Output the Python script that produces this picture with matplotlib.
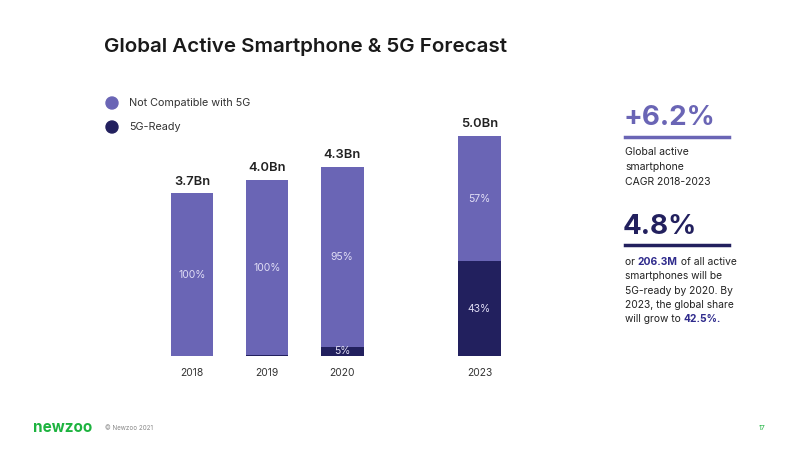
import matplotlib
matplotlib.use("Agg")
import matplotlib.pyplot as plt
from matplotlib.patches import Circle
from matplotlib.lines import Line2D

years = ["2018", "2019", "2020", "2023"]
positions = [0, 1, 2, 3.83]
totals = [3.7, 4.0, 4.3, 5.0]
total_labels = ["3.7Bn", "4.0Bn", "4.3Bn", "5.0Bn"]
ready_share = [0.0, 0.005, 0.05, 0.43]
not_share_labels = ["100%", "100%", "95%", "57%"]
ready_share_labels = ["", "", "5%", "43%"]

LIGHT = "#6A65B5"
DARK = "#22205E"
FONT = ["Inter", "DejaVu Sans"]
plt.rcParams['font.family'] = FONT

W, H = 800, 450
fig = plt.figure(figsize=(8, 4.5), dpi=100)

def fx(px):
    return px / W

def fy(py):
    return 1 - py / H

ax = fig.add_axes([fx(150), fy(356), fx(370), (356 - 110) / H])
ready = [t * s for t, s in zip(totals, ready_share)]
notc = [t - r for t, r in zip(totals, ready)]
ax.bar(positions, ready, width=0.57, color=DARK, linewidth=0)
ax.bar(positions, notc, bottom=ready, width=0.57, color=LIGHT, linewidth=0)
ax.set_xlim(-0.56, 4.37)
ax.set_ylim(0, 5.59)
ax.axis("off")

for x, yr, t, tl, r, n, nl, rl in zip(positions, years, totals, total_labels, ready, notc,
                                      not_share_labels, ready_share_labels):
    ax.annotate(tl, (x, t), xytext=(0, 4), textcoords="offset points", ha="center", va="bottom",
                fontsize=9.3, fontweight="semibold", color="#222222")
    ax.text(x, r + n / 2, nl, ha="center", va="center", fontsize=7.5, color="#E0DDF5")
    if rl:
        ax.text(x, r / 2, rl, ha="center", va="center", fontsize=7.5, color="#E0DDF5")
    ax.annotate(yr, (x, 0), xytext=(0, -9), textcoords="offset points",
                ha="center", va="top", fontsize=7.4, color="#333333")

# Title
fig.text(fx(104), fy(47), "Global Active Smartphone & 5G Forecast", fontsize=14.8, fontweight="semibold",
         color="#1a1a1a", va="center", ha="left")

# Legend
for py, lab, col in [(103, "Not Compatible with 5G", LIGHT), (127, "5G-Ready", DARK)]:
    fig.patches.append(Circle((112, H - py), 6, transform=None, color=col))
    fig.text(fx(129), fy(py), lab, fontsize=7.8, color="#333333", va="center", ha="left")

# Right panel
fig.text(fx(623), fy(118), "+6.2%", fontsize=20, fontweight="bold", color=LIGHT, va="center", ha="left")
fig.add_artist(Line2D([fx(625), fx(729)], [fy(137), fy(137)], color=LIGHT, lw=2.5))
for i, line in enumerate(["Global active", "smartphone", "CAGR 2018-2023"]):
    fig.text(fx(625), fy(152 + 15 * i), line, fontsize=7.5, color="#222222", va="center", ha="left")

fig.text(fx(623), fy(227), "4.8%", fontsize=20, fontweight="bold", color=DARK, va="center", ha="left")
fig.add_artist(Line2D([fx(625), fx(729)], [fy(245), fy(245)], color=DARK, lw=2.5))

rich_lines = [
    [("or ", "normal", "#222222"), ("206.3M", "bold", "#2E2A8C"), (" of all active", "normal", "#222222")],
    [("smartphones will be", "normal", "#222222")],
    [("5G-ready by 2020. By", "normal", "#222222")],
    [("2023, the global share", "normal", "#222222")],
    [("will grow to ", "normal", "#222222"), ("42.5%.", "bold", "#2E2A8C")],
]
fig.canvas.draw()
renderer = fig.canvas.get_renderer()
for i, segs in enumerate(rich_lines):
    xpix = 625
    for txt, wt, col in segs:
        t = fig.text(fx(xpix), fy(262 + 14.3 * i), txt, fontsize=7.4, fontweight=wt, color=col,
                     va="center", ha="left")
        bb = t.get_window_extent(renderer)
        xpix += bb.width

# Footer
fig.text(fx(33), fy(427), "newzoo", fontsize=11, fontweight="bold", color="#1DB33F", va="center", ha="left")
fig.text(fx(105), fy(428), "© Newzoo 2021", fontsize=4.5, color="#888888", va="center", ha="left")
fig.text(fx(759), fy(428), "17", fontsize=5, color="#1DB33F", va="center", ha="left")

fig.savefig("out.png", dpi=100, facecolor="white")
